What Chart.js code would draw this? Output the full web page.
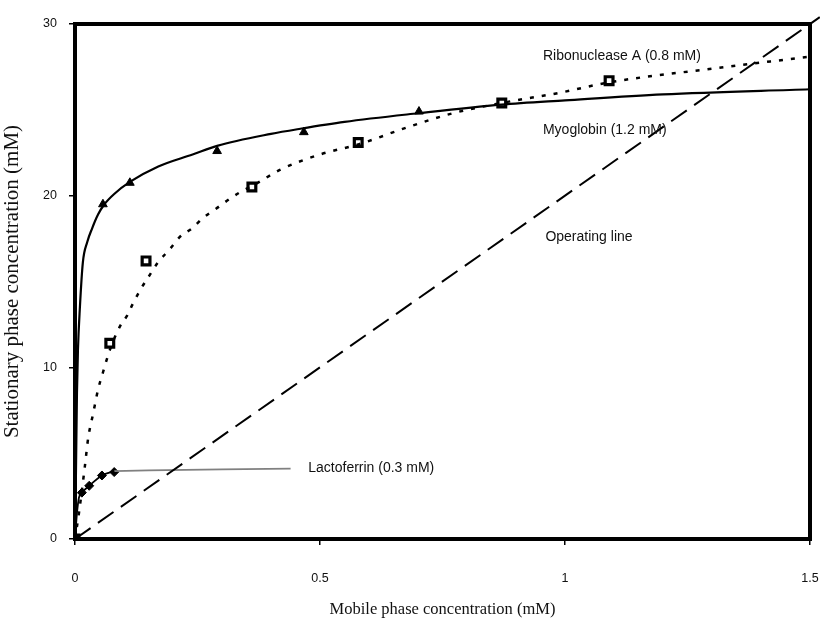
<!DOCTYPE html>
<html>
<head>
<meta charset="utf-8">
<script src="https://cdn.jsdelivr.net/npm/chart.js@4/dist/chart.umd.min.js"></script>
<style>
  html, body { margin: 0; padding: 0; background: #ffffff; }
  #wrap { width: 820px; height: 626px; position: relative; }
</style>
</head>
<body>
<div id="wrap"><canvas id="c" width="820" height="626"></canvas></div>
<script>
// ---- data ----
const xTicks = [0, 0.5, 1, 1.5];
const xTickLabels = ["0", "0.5", "1", "1.5"];
const yTicks = [0, 10, 20, 30];
const yTickLabels = ["0", "10", "20", "30"];

const myoglobinCurve = [[0,0],[0.002,4],[0.004,8.5],[0.006,11],[0.01,13.5],[0.016,16.1],[0.025,17.3],[0.035,18.1],[0.047,18.9],[0.06,19.5],[0.08,20.1],[0.112,20.8],[0.17,21.7],[0.24,22.4],[0.29,22.9],[0.4,23.6],[0.46,23.9],[0.55,24.3],[0.7,24.8],[0.87,25.3],[1.0,25.55],[1.2,25.9],[1.5,26.2]];
const myoglobinPoints = [[0.057,19.5],[0.112,20.75],[0.29,22.6],[0.467,23.7],[0.702,24.9]];

const ribonucleaseCurve = [[0,0],[0.008,1.5],[0.02,4.2],[0.027,5.9],[0.037,7.3],[0.047,8.7],[0.057,9.7],[0.071,11.0],[0.092,12.4],[0.106,13.0],[0.118,13.7],[0.133,14.5],[0.153,15.4],[0.169,16.1],[0.194,16.9],[0.214,17.6],[0.239,18.1],[0.261,18.7],[0.286,19.2],[0.31,19.7],[0.337,20.2],[0.37,20.7],[0.418,21.5],[0.5,22.4],[0.58,23.0],[0.68,24.0],[0.771,24.8],[0.871,25.4],[0.99,26.0],[1.09,26.6],[1.3,27.4],[1.5,28.1]];
const ribonucleasePoints = [[0,0],[0.071,11.4],[0.145,16.2],[0.361,20.5],[0.578,23.1],[0.871,25.4],[1.09,26.7]];

const lactoferrinCurve = [[0,0],[0.004,1.5],[0.008,2.4],[0.014,2.7],[0.029,3.1],[0.055,3.7],[0.08,3.95]];
const lactoferrinTail = [[0.08,3.95],[0.15,4.0],[0.3,4.05],[0.44,4.1]];
const lactoferrinPoints = [[0.014,2.7],[0.029,3.1],[0.055,3.7],[0.08,3.9]];

const operatingLine = [[0,0],[1.52,30.4]];

const labelTexts = ["Ribonuclease A (0.8 mM)", "Myoglobin (1.2 mM)", "Operating line", "Lactoferrin (0.3 mM)"];
const labelX = [0.955, 0.955, 0.96, 0.476];
const labelY = [28.1, 23.8, 17.6, 4.1];

const xTitle = "Mobile phase concentration (mM)";
const yTitle = "Stationary phase concentration (mM)";

// ---- helpers ----
const pts = arr => arr.map(p => ({x: p[0], y: p[1]}));

const framePlugin = {
  id: 'frame',
  afterDatasetsDraw(chart) {
    const {ctx, chartArea: a, scales} = chart;
    ctx.save();
    ctx.strokeStyle = '#000';
    ctx.lineWidth = 4;
    ctx.strokeRect(a.left, a.top, a.right - a.left, a.bottom - a.top);
    ctx.restore();
    ctx.save();
    ctx.fillStyle = '#111';
    ctx.font = '14px "Liberation Sans", Arial, sans-serif';
    ctx.textBaseline = 'middle';
    ctx.textAlign = 'left';
    labelTexts.forEach((t, i) => {
      ctx.fillText(t, scales.x.getPixelForValue(labelX[i]), scales.y.getPixelForValue(labelY[i]));
    });
    ctx.restore();
  }
};

new Chart(document.getElementById('c'), {
  type: 'scatter',
  data: {
    datasets: [
      { data: pts(operatingLine), showLine: true, borderColor: '#000', borderWidth: 2, borderDash: [19, 9], pointRadius: 0, clip: false },
      { data: pts(myoglobinCurve), showLine: true, borderColor: '#000', borderWidth: 2.2, pointRadius: 0, cubicInterpolationMode: 'monotone' },
      { data: pts(ribonucleaseCurve), showLine: true, borderColor: '#000', borderWidth: 2.5, borderDash: [4, 8], pointRadius: 0, cubicInterpolationMode: 'monotone' },
      { data: pts(lactoferrinCurve), showLine: true, borderColor: '#000', borderWidth: 1.8, pointRadius: 0, cubicInterpolationMode: 'monotone' },
      { data: pts(lactoferrinTail), showLine: true, borderColor: '#808080', borderWidth: 1.8, pointRadius: 0 },
      { data: pts(myoglobinPoints), showLine: false, pointStyle: 'triangle', pointRadius: 5, backgroundColor: '#000', borderColor: '#000', borderWidth: 1 },
      { data: pts(ribonucleasePoints), showLine: false, pointStyle: 'rect', pointRadius: 5.5, backgroundColor: '#fff', borderColor: '#000', borderWidth: 3.2 },
      { data: pts(lactoferrinPoints), showLine: false, pointStyle: 'rectRot', pointRadius: 4.5, backgroundColor: '#000', borderColor: '#000', borderWidth: 1 }
    ]
  },
  options: {
    responsive: false,
    animation: false,
    events: [],
    layout: { padding: { top: 24, right: 10, left: 0, bottom: 0 } },
    plugins: { legend: { display: false }, tooltip: { enabled: false } },
    scales: {
      x: {
        type: 'linear', min: 0, max: 1.5,
        afterBuildTicks: s => { s.ticks = xTicks.map(v => ({value: v})); },
        afterFit: s => { s.height = 87; s.paddingLeft = 0; s.paddingRight = 0; },
        grid: { drawOnChartArea: false, drawTicks: true, tickLength: 6, color: '#000', lineWidth: 1.5 },
        border: { display: false },
        ticks: {
          color: '#111', padding: 26, maxRotation: 0,
          font: { family: '"Liberation Sans", Arial, sans-serif', size: 12.5 },
          callback: (v, i) => xTickLabels[i]
        },
        title: { display: true, text: xTitle, color: '#111', font: { family: '"Liberation Serif", "Times New Roman", serif', size: 16.5 }, padding: { top: 8, bottom: 6 } }
      },
      y: {
        type: 'linear', min: 0, max: 30,
        afterBuildTicks: s => { s.ticks = yTicks.map(v => ({value: v})); },
        afterFit: s => { s.width = 75; s.paddingTop = 0; s.paddingBottom = 0; },
        grid: { drawOnChartArea: false, drawTicks: true, tickLength: 6, color: '#000', lineWidth: 1.5 },
        border: { display: false },
        ticks: {
          color: '#111', padding: 12,
          font: { family: '"Liberation Sans", Arial, sans-serif', size: 12.5 },
          callback: (v, i) => yTickLabels[i]
        },
        title: { display: true, text: yTitle, color: '#111', font: { family: '"Liberation Serif", "Times New Roman", serif', size: 21 }, padding: { top: 0, bottom: 6 } }
      }
    }
  },
  plugins: [framePlugin]
});
</script>
</body>
</html>
